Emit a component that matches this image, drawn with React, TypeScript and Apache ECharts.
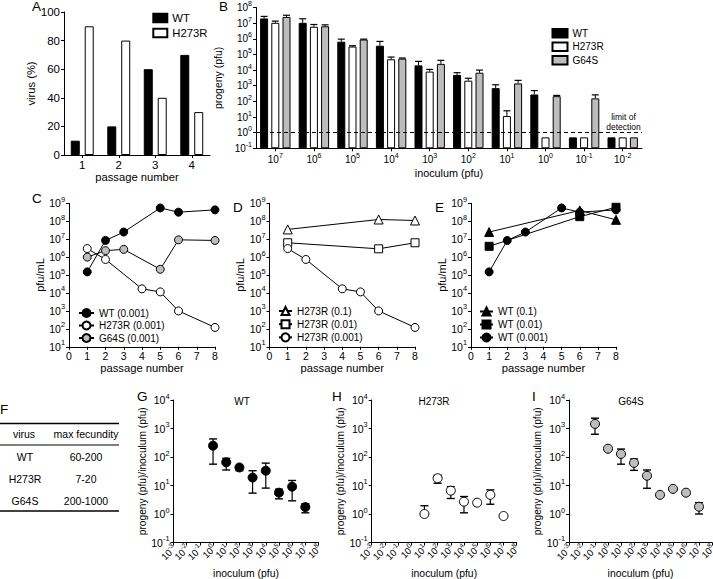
import { useEffect, useRef } from 'react';
import * as echarts from 'echarts';

const FONT = '"Liberation Sans", Arial, Helvetica, sans-serif';

// ---------- Panel A : virus (%) by passage ----------
const passageA = ['1', '2', '3', '4'];
const aWT = [10, 20, 60, 70];
const aH273R = [90, 80, 40, 30];

// ---------- Panel B : progeny (pfu) by inoculum (pfu) ----------
const inoculumExpB = [7, 6, 5, 4, 3, 2, 1, 0, -1, -2];
const bWT = [2.0e7, 1.05e7, 6.5e5, 3.6e5, 2.0e4, 4.9e3, 700, 275, 0.5, 0.5];
const bWTErr = [2.7e7, 1.9e7, 9.5e5, 6.8e5, 3.6e4, 6.8e3, 1150, 490, null, null];
const bH273R = [1.05e7, 5.9e6, 3.2e5, 4.9e4, 8.0e3, 2.1e3, 11.5, 0.5, 0.5, 0.5];
const bH273RErr = [1.35e7, 8.2e6, 3.6e5, 6.8e4, 1.1e4, 3.0e3, 25, null, null, null];
const bG64S = [2.5e7, 6.3e6, 9.0e5, 5.4e4, 2.5e4, 6.8e3, 1.4e3, 215, 155, 0.5];
const bG64SErr = [3.2e7, 7.8e6, 9.5e5, 5.9e4, 4.2e4, 1.0e4, 2.2e3, 240, 260, null];
const limitOfDetection = 1;

// ---------- Panel C ----------
const cPassWT = [1, 2, 3, 5, 6, 8];
const cWT = [1.5e5, 8.5e6, 2.5e7, 5.5e8, 3.2e8, 4.3e8];
const cPassH273R = [1, 2, 4, 5, 6, 8];
const cH273R = [3.0e6, 7.4e5, 1.7e4, 1.15e4, 1.0e3, 120];
const cPassG64S = [1, 2, 3, 5, 6, 8];
const cG64S = [1.0e6, 2.3e6, 2.7e6, 2.1e5, 9.2e6, 8.5e6];

// ---------- Panel D ----------
const dPass = [1, 6, 8];
const dH273R_01 = [3.5e7, 1.25e8, 1.1e8];
const dH273R_001 = [6.3e6, 2.9e6, 6.3e6];

// ---------- Panel E ----------
const ePass = [1, 6, 8];
const eWT_01 = [2.5e7, 4.0e8, 1.2e8];
const eWT_001 = [4.0e6, 1.8e8, 6.0e8];

// ---------- Panel F ----------
const tableVirus = ['WT', 'H273R', 'G64S'];
const tableFecundity = ['60-200', '7-20', '200-1000'];

// ---------- Panels G, H, I : progeny/inoculum ----------
const inocTickExp = [-3, -2, -1, 0, 1, 2, 3, 4, 5, 6, 7, 8];

const gInocExp = [0, 1, 2, 3, 4, 5, 6, 7];
const gMean = [250, 65, 43, 19, 33, 5.6, 9.1, 1.75];
const gUpper = [430, 90, null, 33, 61, 7.4, 15, 2.3];
const gLower = [56, 35, 33, 5.4, 8.1, 3.4, 2.9, 1.1];

const hInocExp = [1, 2, 3, 4, 5, 6, 7];
const hMean = [1.0, 18, 6.6, 2.7, 2.5, 4.7, 0.85];
const hUpper = [1.95, 23, 9.1, 4.1, null, 7, null];
const hLower = [null, 12, 3.5, 1.1, null, 2.2, null];

const iInocExp = [-1, 0, 1, 2, 3, 4, 5, 6, 7];
const iMean = [1450, 195, 128, 62, 22, 4.7, 7.6, 5.6, 1.8];
const iUpper = [2300, null, 190, 85, 35, null, null, null, 2.5];
const iLower = [630, null, 56, 34, 8, null, null, null, 1.0];

// ---------- helpers ----------
const lg = (v: number) => Math.log10(v);
const B_BASE = -1; // exponent at bottom of panel B axis
const RATIO_MIN = -1; // exponent at bottom of panels G-I
const BAR_W_B = 8;
const BAR_GAP_B = 0.4;
const GRAY = '#bdbdbd';

const supLabel = (e: number | string) => `{b|10}{s|${e}}`;
const rich = (size: number) => ({
  b: { fontSize: size, fontFamily: FONT, color: '#000' },
  s: {
    fontSize: Math.round(size * 0.7 * 10) / 10,
    fontFamily: FONT,
    color: '#000',
    padding: [0, 0, Math.round(size * 0.75), 0],
  },
});
const richFill = (size: number) => ({
  b: { fontSize: size, fontFamily: FONT, fill: '#000' },
  s: {
    fontSize: Math.round(size * 0.7 * 10) / 10,
    fontFamily: FONT,
    fill: '#000',
    padding: [0, 0, Math.round(size * 0.75), 0],
  },
});

function clean(o: any) {
  const r: any = {};
  Object.keys(o).forEach((k) => {
    if (o[k] !== undefined) r[k] = o[k];
  });
  return r;
}

function axis(gridIndex: number, o: any) {
  return clean({
    gridIndex,
    nameLocation: 'middle',
    name: o.name,
    nameGap: o.nameGap,
    nameTextStyle: { color: '#000', fontFamily: FONT, fontSize: o.nameSize ?? 11 },
    type: o.type ?? 'value',
    data: o.data,
    min: o.min,
    max: o.max,
    interval: o.interval,
    axisLine: { show: true, onZero: false, lineStyle: { color: '#000', width: 1 } },
    axisTick: clean({ show: true, length: 3, alignWithLabel: true, interval: o.type === 'category' ? 0 : undefined, lineStyle: { color: '#000', width: 1 } }),
    splitLine: { show: false },
    axisLabel: clean({
      show: o.showLabel ?? true,
      color: '#000',
      fontFamily: FONT,
      fontSize: o.labelSize ?? 10.5,
      margin: o.margin ?? 4,
      formatter: o.formatter,
      rich: o.rich,
      interval: o.type === 'category' ? 0 : undefined,
      hideOverlap: false,
      showMinLabel: true,
      showMaxLabel: true,
    }),
  });
}

function bErrSeries(k: number, vals: number[], errs: (number | null)[]) {
  const data: number[][] = [];
  vals.forEach((v, i) => {
    const e = errs[i];
    if (e != null) data.push([i, lg(v) - B_BASE, lg(e) - B_BASE]);
  });
  return {
    type: 'custom',
    xAxisIndex: 1,
    yAxisIndex: 1,
    z: 3,
    silent: true,
    data,
    renderItem: (_p: any, api: any) => {
      const i = api.value(0);
      const top = api.coord([i, api.value(1)]);
      const err = api.coord([i, api.value(2)]);
      const cx = top[0] + (k - 1) * BAR_W_B * (1 + BAR_GAP_B);
      return {
        type: 'group',
        children: [
          { type: 'line', shape: { x1: cx, y1: top[1], x2: cx, y2: err[1] }, style: { stroke: '#000', lineWidth: 1 } },
          { type: 'line', shape: { x1: cx - 3.5, y1: err[1], x2: cx + 3.5, y2: err[1] }, style: { stroke: '#000', lineWidth: 1.2 } },
        ],
      };
    },
  };
}

function errSeries(ax: number, xs: number[], mean: number[], lo: (number | null)[], hi: (number | null)[]) {
  const data: number[][] = [];
  xs.forEach((x, i) => {
    const l = lo[i];
    const h = hi[i];
    if (l == null && h == null) return;
    const m = lg(mean[i]);
    data.push([x, m, l == null ? m : lg(l), h == null ? m : lg(h), l == null ? 0 : 1, h == null ? 0 : 1]);
  });
  return {
    type: 'custom',
    xAxisIndex: ax,
    yAxisIndex: ax,
    z: 2,
    silent: true,
    data,
    renderItem: (_p: any, api: any) => {
      const x = api.value(0);
      const pl = api.coord([x, api.value(2)]);
      const ph = api.coord([x, api.value(3)]);
      const children: any[] = [
        { type: 'line', shape: { x1: pl[0], y1: pl[1], x2: ph[0], y2: ph[1] }, style: { stroke: '#000', lineWidth: 1.2 } },
      ];
      if (api.value(4)) children.push({ type: 'line', shape: { x1: pl[0] - 4, y1: pl[1], x2: pl[0] + 4, y2: pl[1] }, style: { stroke: '#000', lineWidth: 1.4 } });
      if (api.value(5)) children.push({ type: 'line', shape: { x1: ph[0] - 4, y1: ph[1], x2: ph[0] + 4, y2: ph[1] }, style: { stroke: '#000', lineWidth: 1.4 } });
      return { type: 'group', children };
    },
  };
}

// rotated 45° tick labels for the inoculum axes of G-I, placed by the axis scale
function rotatedLabelSeries(ax: number) {
  return {
    type: 'custom',
    xAxisIndex: ax,
    yAxisIndex: ax,
    silent: true,
    clip: false,
    z: 5,
    data: inocTickExp.map((e) => [e, RATIO_MIN]),
    renderItem: (_p: any, api: any) => {
      const p = api.coord([api.value(0), api.value(1)]);
      return {
        type: 'text',
        x: p[0] + 1,
        y: p[1] + 4,
        rotation: Math.PI / 4,
        style: {
          text: supLabel(api.value(0)),
          rich: richFill(9.5),
          fontSize: 9.5,
          fontFamily: FONT,
          fill: '#000',
          align: 'right',
          verticalAlign: 'middle',
        },
      };
    },
  };
}

function scatterSeries(ax: number, name: string, xs: number[], ys: number[], fill: string) {
  return {
    type: 'scatter',
    name,
    xAxisIndex: ax,
    yAxisIndex: ax,
    z: 3,
    symbol: 'circle',
    symbolSize: 9,
    itemStyle: { color: fill, borderColor: '#000', borderWidth: 1, opacity: 1 },
    data: xs.map((x, i) => [x, lg(ys[i])]),
  };
}

function lineSeries(ax: number, name: string, xs: number[], ys: number[], symbol: string, fill: string, size = 8) {
  return {
    type: 'line',
    name,
    xAxisIndex: ax,
    yAxisIndex: ax,
    symbol,
    symbolSize: size,
    showAllSymbol: true,
    lineStyle: { color: '#000', width: 1 },
    itemStyle: { color: fill, borderColor: '#000', borderWidth: 1 },
    data: xs.map((x, i) => [x, lg(ys[i])]),
  };
}

function text(x: number, y: number, t: string, size: number, align = 'left', extra: any = {}) {
  return {
    type: 'text',
    x,
    y,
    silent: true,
    style: { text: t, fontSize: size, fontFamily: FONT, fill: '#000', align, verticalAlign: 'middle', ...extra },
  };
}
function hline(x1: number, x2: number, y: number, w: number) {
  return { type: 'line', silent: true, shape: { x1, y1: y, x2, y2: y }, style: { stroke: '#000', lineWidth: w } };
}

function buildOption() {
  const grid = [
    { left: 64, top: 12, width: 146, height: 143 }, // A
    { left: 256, top: 5, width: 386, height: 143.3 }, // B
    { left: 69, top: 203.3, width: 146, height: 143.5 }, // C
    { left: 269.5, top: 203.3, width: 145.5, height: 143.5 }, // D
    { left: 471, top: 203.3, width: 145, height: 143.5 }, // E
    { left: 173.5, top: 400, width: 145, height: 142.7 }, // G
    { left: 371.7, top: 400, width: 145, height: 142.7 }, // H
    { left: 569, top: 400, width: 143, height: 142.7 }, // I
  ];

  const logY = (v: number) => supLabel(Math.round(v));
  const passageX = (g: number) =>
    axis(g, { min: 0, max: 8, interval: 1, name: 'passage number', nameGap: 16, nameSize: 11.2, labelSize: 10.5 });
  const pfuY = (g: number, gap: number) =>
    axis(g, { min: 1, max: 9, interval: 1, name: 'pfu/mL', nameGap: gap, nameSize: 11, formatter: logY, rich: rich(10.5) });
  const inocX = (g: number) =>
    axis(g, {
      min: -3, max: 8, interval: 1, name: 'inoculum (pfu)', nameGap: 25.5, nameSize: 10.4, showLabel: false,
    });
  const ratioY = (g: number, gap: number) =>
    axis(g, {
      min: RATIO_MIN, max: 4, interval: 1, name: 'progeny (pfu)/inoculum (pfu)', nameGap: gap, nameSize: 10.2,
      formatter: logY, rich: rich(10.5),
    });

  const xAxis = [
    axis(0, { type: 'category', data: passageA, name: 'passage number', nameGap: 15, nameSize: 11.2, labelSize: 11.5, margin: 4 }),
    axis(1, {
      type: 'category', data: inoculumExpB.map(String), name: 'inoculum (pfu)', nameGap: 19, nameSize: 10.8,
      labelSize: 10, margin: 4, formatter: (v: string) => supLabel(v), rich: rich(10),
    }),
    passageX(2),
    passageX(3),
    passageX(4),
    inocX(5),
    inocX(6),
    inocX(7),
  ];
  const yAxis = [
    axis(0, { min: 0, max: 100, interval: 20, name: 'virus (%)', nameGap: 19, nameSize: 11.2, labelSize: 11.5 }),
    axis(1, {
      min: 0, max: 9, interval: 1, name: 'progeny (pfu)', nameGap: 23, nameSize: 10.5,
      formatter: (v: number) => supLabel(Math.round(v) + B_BASE), rich: rich(10),
    }),
    pfuY(2, 16.5),
    pfuY(3, 18),
    pfuY(4, 13),
    ratioY(5, 22.5),
    ratioY(6, 22),
    ratioY(7, 24),
  ];

  const bBar = (name: string, vals: number[], color: string) => ({
    type: 'bar',
    name,
    xAxisIndex: 1,
    yAxisIndex: 1,
    barWidth: BAR_W_B,
    barGap: `${BAR_GAP_B * 100}%`,
    itemStyle: { color, borderColor: '#000', borderWidth: 1 },
    data: vals.map((v) => lg(v) - B_BASE),
  });

  const series: any[] = [
    // A
    {
      type: 'bar', name: 'WT', xAxisIndex: 0, yAxisIndex: 0, barWidth: 9, barGap: '55%',
      itemStyle: { color: '#000', borderColor: '#000', borderWidth: 1 }, data: aWT,
    },
    {
      type: 'bar', name: 'H273R', xAxisIndex: 0, yAxisIndex: 0, barWidth: 9, barGap: '55%',
      itemStyle: { color: '#fff', borderColor: '#000', borderWidth: 1 }, data: aH273R,
    },
    // B
    {
      ...bBar('WT', bWT, '#000'),
      markLine: {
        silent: true,
        symbol: ['none', 'none'],
        label: { show: false },
        lineStyle: { color: '#000', width: 1.2, type: [4, 3] },
        data: [{ yAxis: lg(limitOfDetection) - B_BASE }],
      },
    },
    bBar('H273R', bH273R, '#fff'),
    bBar('G64S', bG64S, GRAY),
    bErrSeries(0, bWT, bWTErr),
    bErrSeries(1, bH273R, bH273RErr),
    bErrSeries(2, bG64S, bG64SErr),
    // C
    lineSeries(2, 'WT (0.001)', cPassWT, cWT, 'circle', '#000'),
    lineSeries(2, 'H273R (0.001)', cPassH273R, cH273R, 'circle', '#fff'),
    lineSeries(2, 'G64S (0.001)', cPassG64S, cG64S, 'circle', GRAY),
    // D
    lineSeries(3, 'H273R (0.1)', dPass, dH273R_01, 'triangle', '#fff', 9),
    lineSeries(3, 'H273R (0.01)', dPass, dH273R_001, 'rect', '#fff', 8),
    lineSeries(3, 'H273R (0.001)', cPassH273R, cH273R, 'circle', '#fff'),
    // E
    lineSeries(4, 'WT (0.1)', ePass, eWT_01, 'triangle', '#000', 9),
    lineSeries(4, 'WT (0.01)', ePass, eWT_001, 'rect', '#000', 8),
    lineSeries(4, 'WT (0.001)', cPassWT, cWT, 'circle', '#000'),
    // G, H, I
    errSeries(5, gInocExp, gMean, gLower, gUpper),
    scatterSeries(5, 'WT ratio', gInocExp, gMean, '#000'),
    rotatedLabelSeries(5),
    errSeries(6, hInocExp, hMean, hLower, hUpper),
    scatterSeries(6, 'H273R ratio', hInocExp, hMean, '#fff'),
    rotatedLabelSeries(6),
    errSeries(7, iInocExp, iMean, iLower, iUpper),
    scatterSeries(7, 'G64S ratio', iInocExp, iMean, GRAY),
    rotatedLabelSeries(7),
  ];

  const legendBase = (left: number, top: number, data: string[], o: any) =>
    clean({
      left,
      top,
      orient: 'vertical',
      padding: 0,
      selectedMode: false,
      data,
      textStyle: { color: '#000', fontFamily: FONT, fontSize: o.fontSize ?? 10 },
      itemWidth: o.itemWidth,
      itemHeight: o.itemHeight,
      itemGap: o.itemGap,
      icon: o.icon,
    });

  const legend = [
    legendBase(152.3, 12.5, ['WT', 'H273R'], { fontSize: 11.3, itemWidth: 14, itemHeight: 8.5, itemGap: 4, icon: 'rect' }),
    legendBase(551.5, 28, ['WT', 'H273R', 'G64S'], { fontSize: 10, itemWidth: 15, itemHeight: 8.5, itemGap: 3, icon: 'rect' }),
    legendBase(78, 308, ['WT (0.001)', 'H273R (0.001)', 'G64S (0.001)'], { itemWidth: 15, itemHeight: 10, itemGap: 2.5 }),
    legendBase(278, 306, ['H273R (0.1)', 'H273R (0.01)', 'H273R (0.001)'], { itemWidth: 13, itemHeight: 10, itemGap: 3.2 }),
    legendBase(479, 306.5, ['WT (0.1)', 'WT (0.01)', 'WT (0.001)'], { itemWidth: 13, itemHeight: 10, itemGap: 3 }),
  ];

  const LETTER = 13.5;
  const graphic: any[] = [
    text(32, 6.3, 'A', LETTER),
    text(219, 6, 'B', LETTER),
    text(32, 198, 'C', LETTER),
    text(233, 207, 'D', LETTER),
    text(435, 207, 'E', LETTER),
    text(0, 409, 'F', LETTER),
    text(137, 396.5, 'G', LETTER),
    text(332, 396, 'H', LETTER),
    text(532, 396, 'I', LETTER),
    // subplot titles
    text(242, 401, 'WT', 10, 'center'),
    text(434, 401, 'H273R', 10, 'center'),
    text(631, 401, 'G64S', 10, 'center'),
    // limit of detection
    text(623.5, 122, 'limit of\ndetection', 8.5, 'center', { lineHeight: 9.5 }),
    // table F
    hline(0, 119, 423.5, 1.5),
    hline(0, 119, 445, 1.2),
    hline(0, 119, 511, 1.5),
    text(24, 434, 'virus', 10.5, 'center'),
    text(86, 434, 'max fecundity', 10.5, 'center'),
    ...tableVirus.map((v, i) => text(25, [457.3, 479.3, 500.7][i], v, 10.5, 'center')),
    ...tableFecundity.map((v, i) => text(86, [457.3, 479.3, 500.7][i], v, 10.5, 'center')),
  ];

  return {
    animation: false,
    backgroundColor: '#fff',
    textStyle: { fontFamily: FONT, color: '#000' },
    grid,
    xAxis,
    yAxis,
    legend,
    series,
    graphic,
  };
}

export default function App() {
  const ref = useRef<HTMLDivElement>(null);
  useEffect(() => {
    if (!ref.current) return;
    const chart = echarts.init(ref.current, undefined, { renderer: 'svg' });
    chart.setOption(buildOption() as any);
    return () => chart.dispose();
  }, []);
  return (
    <div
      ref={ref}
      style={{ position: 'absolute', left: 0, top: 0, width: 713, height: 579, background: '#fff' }}
    />
  );
}
